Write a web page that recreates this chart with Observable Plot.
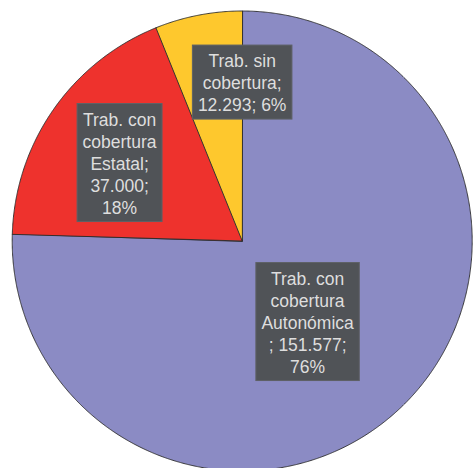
<!DOCTYPE html>
<html>
<head>
<meta charset="utf-8">
<script src="https://cdn.jsdelivr.net/npm/d3@7"></script>
<script src="https://cdn.jsdelivr.net/npm/@observablehq/plot@0.6"></script>
<style>
  html, body { margin: 0; padding: 0; background: #fff; }
  #chart { width: 473px; height: 468px; overflow: hidden; }
</style>
</head>
<body>
<div id="chart"></div>
<script>
// ---- data ----
const categories = ["Trab. con cobertura Autonómica", "Trab. con cobertura Estatal", "Trab. sin cobertura"];
const values = [151577, 37000, 12293];
const labelTexts = [
  "Trab. con\ncobertura\nAutonómica\n; 151.577;\n76%",
  "Trab. con\ncobertura\nEstatal;\n37.000;\n18%",
  "Trab. sin\ncobertura;\n12.293; 6%"
];
const colors = ["#8b8bc4", "#ee322d", "#fec82d"];

// ---- layout (label placement: fraction of radius, angle nudge in degrees) ----
const labelRadius = [0.451, 0.633, 0.691];
const labelNudge = [5.1, -2.2, 11];

const rows = categories.map((name, i) => ({name, value: values[i], label: labelTexts[i]}));
const arcs = d3.pie().sort(null).value(d => d.value)(rows);

const slicePoints = [];
for (const a of arcs) {
  slicePoints.push({name: a.data.name, x: 0, y: 0});
  const steps = Math.max(2, Math.ceil((a.endAngle - a.startAngle) / 0.005));
  for (let k = 0; k <= steps; k++) {
    const t = a.startAngle + (a.endAngle - a.startAngle) * k / steps;
    slicePoints.push({name: a.data.name, x: Math.sin(t), y: Math.cos(t)});
  }
}

const labelRows = arcs.map((a, i) => {
  const mid = (a.startAngle + a.endAngle) / 2 + labelNudge[i] * Math.PI / 180;
  return {label: a.data.label, x: labelRadius[i] * Math.sin(mid), y: labelRadius[i] * Math.cos(mid)};
});

const W = 473, H = 468;
const R = 230, cx = 241.7, cy = 240.5;
const fontSize = 17.5, lineH = 22;
const font = `${fontSize}px "Liberation Sans", Arial, sans-serif`;
const ctx = document.createElement("canvas").getContext("2d");
ctx.font = font;

const plot = Plot.plot({
  width: W,
  height: H,
  marginLeft: cx - R,
  marginRight: W - (cx + R),
  marginTop: cy - R,
  marginBottom: 0,
  x: {domain: [-1, 1], axis: null},
  y: {domain: [1 - (H - (cy - R)) / R, 1], axis: null},
  color: {domain: categories, range: colors},
  style: {background: "#fff"},
  marks: [
    Plot.line(slicePoints, {
      x: "x", y: "y", z: "name", fill: "name",
      stroke: "#2a2a2a", strokeWidth: 0.9, curve: "linear-closed"
    }),
    Plot.text(labelRows, {
      x: "x", y: "y", text: "label",
      fill: "#dedede", fontSize, fontFamily: '"Liberation Sans", Arial, sans-serif',
      lineHeight: lineH / fontSize, textAnchor: "middle", lineAnchor: "middle",
      render(index, scales, vals, dims, context, next) {
        const g = next(index, scales, vals, dims, context);
        const texts = Array.from(g.querySelectorAll("text"));
        index.forEach((i, k) => {
          const lines = String(labelRows[i].label).split("\n");
          const w = Math.max(...lines.map(l => ctx.measureText(l).width)) + 11;
          const h = lines.length * lineH + 8;
          const rect = document.createElementNS("http://www.w3.org/2000/svg", "rect");
          rect.setAttribute("x", vals.x[i] - w / 2);
          rect.setAttribute("y", vals.y[i] - h / 2);
          rect.setAttribute("width", w);
          rect.setAttribute("height", h);
          rect.setAttribute("fill", "#505357");
          rect.setAttribute("stroke", "#5e6166");
          rect.setAttribute("stroke-width", "1");
          const t = texts[k];
          t.parentNode.insertBefore(rect, t);
        });
        return g;
      }
    })
  ]
});
document.getElementById("chart").appendChild(plot);
</script>
</body>
</html>
